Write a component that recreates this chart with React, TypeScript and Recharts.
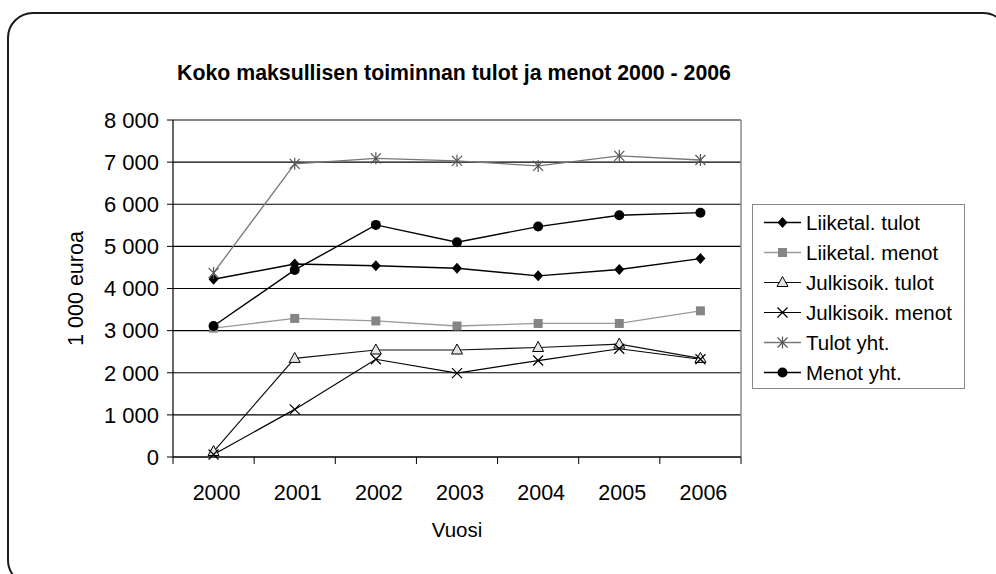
import { LineChart, Line, XAxis, YAxis, CartesianGrid, ReferenceLine, Label } from 'recharts'

const years = ['2000', '2001', '2002', '2003', '2004', '2005', '2006']
const liiketalTulot = [4220, 4580, 4540, 4480, 4300, 4450, 4710]
const liiketalMenot = [3060, 3290, 3230, 3110, 3170, 3170, 3470]
const julkisoikTulot = [130, 2340, 2540, 2540, 2600, 2680, 2340]
const julkisoikMenot = [60, 1130, 2320, 1990, 2290, 2570, 2320]
const tulotYht = [4370, 6960, 7090, 7030, 6910, 7150, 7050]
const menotYht = [3110, 4440, 5510, 5100, 5470, 5740, 5800]
const yTicks = [0, 1000, 2000, 3000, 4000, 5000, 6000, 7000, 8000]

const FONT = '"Liberation Sans", Arial, Helvetica, sans-serif'

type Kind = 'diamond' | 'square' | 'triangle' | 'cross' | 'star' | 'circle'

const series: { key: string; name: string; values: number[]; stroke: string; width: number; kind: Kind }[] = [
  { key: 'lt', name: 'Liiketal. tulot', values: liiketalTulot, stroke: '#000', width: 1.4, kind: 'diamond' },
  { key: 'lm', name: 'Liiketal. menot', values: liiketalMenot, stroke: '#9a9a9a', width: 1.3, kind: 'square' },
  { key: 'jt', name: 'Julkisoik. tulot', values: julkisoikTulot, stroke: '#111', width: 1.2, kind: 'triangle' },
  { key: 'jm', name: 'Julkisoik. menot', values: julkisoikMenot, stroke: '#000', width: 1.2, kind: 'cross' },
  { key: 'ty', name: 'Tulot yht.', values: tulotYht, stroke: '#777', width: 1.3, kind: 'star' },
  { key: 'my', name: 'Menot yht.', values: menotYht, stroke: '#000', width: 1.4, kind: 'circle' },
]

const rows = years.map((y, i) => {
  const row: Record<string, number | string> = { idx: i, year: y }
  series.forEach((s) => {
    row[s.key] = s.values[i]
  })
  return row
})

// ticks at category centres (labels) and at boundaries (tick marks)
const xTicks = [...years.flatMap((_, i) => [i - 0.5, i]), years.length - 0.5]

const fmt = (v: number) => String(v).replace(/\B(?=(\d{3})+(?!\d))/g, ' ')

function Marker({ kind, cx, cy }: { kind: Kind; cx: number; cy: number }) {
  switch (kind) {
    case 'diamond':
      return <polygon points={`${cx},${cy - 5.5} ${cx + 5},${cy} ${cx},${cy + 5.5} ${cx - 5},${cy}`} fill="#000" />
    case 'square':
      return <rect x={cx - 4.5} y={cy - 4.5} width={9} height={9} fill="#858585" />
    case 'triangle':
      return (
        <polygon
          points={`${cx},${cy - 6} ${cx + 5.5},${cy + 4} ${cx - 5.5},${cy + 4}`}
          fill="#e4e4e4"
          stroke="#000"
          strokeWidth={1}
        />
      )
    case 'cross':
      return (
        <path
          d={`M${cx - 5},${cy - 5}L${cx + 5},${cy + 5}M${cx - 5},${cy + 5}L${cx + 5},${cy - 5}`}
          stroke="#000"
          strokeWidth={1.2}
          fill="none"
        />
      )
    case 'star':
      return (
        <path
          d={`M${cx - 5},${cy - 5}L${cx + 5},${cy + 5}M${cx - 5},${cy + 5}L${cx + 5},${cy - 5}M${cx},${cy - 6}L${cx},${cy + 6}`}
          stroke="#555"
          strokeWidth={1.2}
          fill="none"
        />
      )
    default:
      return <circle cx={cx} cy={cy} r={5} fill="#000" />
  }
}

function YearTick(props: any) {
  const { x, y, payload } = props
  const v = payload.value as number
  if (Number.isInteger(v)) {
    return (
      <text x={x + 3} y={y + 43} textAnchor="middle" fontSize={21.5} fontFamily={FONT} fill="#000">
        {years[v]}
      </text>
    )
  }
  return <line x1={x} x2={x} y1={y} y2={y + 7} stroke="#000" strokeWidth={1} />
}

function ChartLegend() {
  return (
    <svg
      width={213}
      height={185}
      style={{ position: 'absolute', left: 752, top: 204, border: '1px solid #8a8a8a', boxSizing: 'border-box' }}
    >
      {series.map((s, i) => {
        const cy = 17.5 + i * 30
        return (
          <g key={s.key}>
            <line x1={11} x2={48} y1={cy} y2={cy} stroke={s.stroke} strokeWidth={s.width} />
            <Marker kind={s.kind} cx={29.5} cy={cy} />
            <text x={53} y={cy + 7} fontSize={20.5} fontFamily={FONT} fill="#000">
              {s.name}
            </text>
          </g>
        )
      })}
    </svg>
  )
}

export default function App() {
  return (
    <div style={{ position: 'absolute', left: 0, top: 0, width: 996, height: 574, overflow: 'hidden', background: '#fff' }}>
      <div
        style={{
          position: 'absolute',
          left: 7,
          top: 12,
          width: 1002,
          height: 574,
          border: '2px solid #1a1a1a',
          borderRadius: 26,
          boxSizing: 'border-box',
        }}
      />
      <div
        style={{
          position: 'absolute',
          left: 0,
          top: 60,
          width: 908,
          textAlign: 'center',
          fontFamily: FONT,
          fontWeight: 'bold',
          fontSize: 21.3,
          lineHeight: '26px',
          color: '#000',
        }}
      >
        Koko maksullisen toiminnan tulot ja menot 2000 - 2006
      </div>
      <LineChart
        width={996}
        height={574}
        data={rows}
        margin={{ top: 120, right: 255, bottom: 37, left: 73 }}
        style={{ position: 'absolute', left: 0, top: 0 }}
      >
        <CartesianGrid horizontal vertical={false} stroke="#000" strokeWidth={1.2} />
        <XAxis
          dataKey="idx"
          type="number"
          domain={[-0.5, 6.5]}
          ticks={xTicks}
          interval={0}
          height={80}
          tickLine={false}
          tickSize={0}
          tickMargin={0}
          axisLine={{ stroke: '#000', strokeWidth: 1.2 }}
          tick={<YearTick />}
        >
          <Label
            value="Vuosi"
            position="insideBottom"
            offset={0}
            style={{ fontSize: 20.5, fontFamily: FONT, fill: '#000' }}
          />
        </XAxis>
        <YAxis
          domain={[0, 8000]}
          ticks={yTicks}
          interval={0}
          width={100}
          tickSize={6}
          tickMargin={8}
          tickFormatter={fmt}
          axisLine={{ stroke: '#000', strokeWidth: 1.2 }}
          tickLine={{ stroke: '#000' }}
          tick={{ fontSize: 22, fontFamily: FONT, fill: '#000' }}
        >
          <Label
            value="1 000 euroa"
            angle={-90}
            position="insideLeft"
            offset={2}
            style={{ fontSize: 21.5, fontFamily: FONT, fill: '#000', textAnchor: 'middle' }}
          />
        </YAxis>
        <ReferenceLine y={8000} stroke="#8a8a8a" strokeWidth={1.5} />
        <ReferenceLine x={6.5} stroke="#8a8a8a" strokeWidth={1.5} />
        {series.map((s) => (
          <Line
            key={s.key}
            dataKey={s.key}
            name={s.name}
            stroke={s.stroke}
            strokeWidth={s.width}
            isAnimationActive={false}
            activeDot={false}
            dot={(p: any) => <Marker key={`${s.key}-${p.index}`} kind={s.kind} cx={p.cx} cy={p.cy} />}
          />
        ))}
      </LineChart>
      <ChartLegend />
    </div>
  )
}
